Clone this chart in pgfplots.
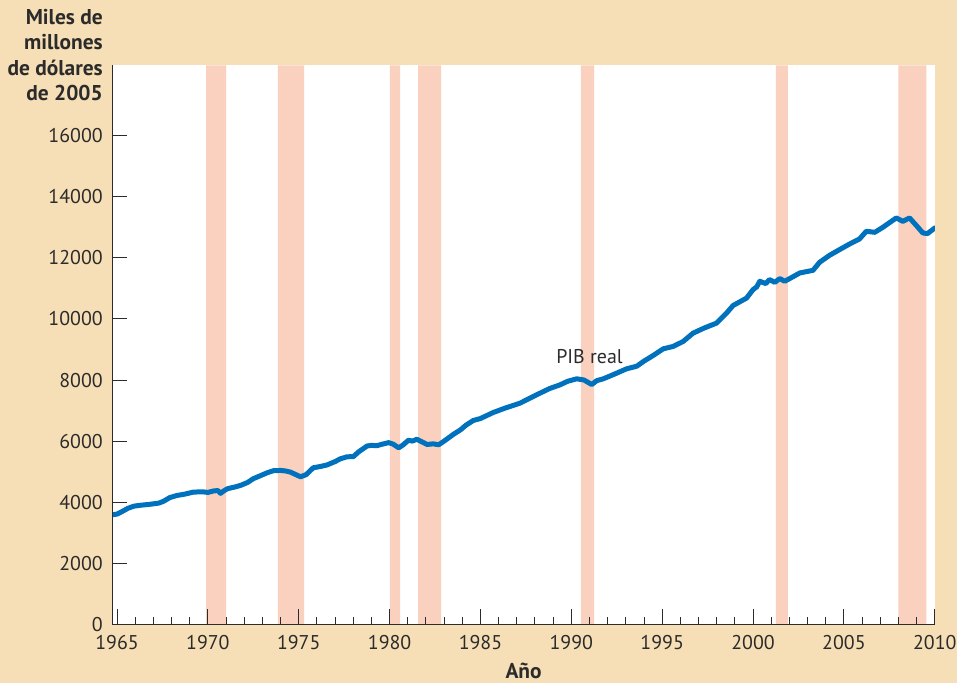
\documentclass[border=0pt]{standalone}
\usepackage{pgfplots}
\pgfplotsset{compat=1.18}
\usepackage{fontspec}
\setmainfont{PT Sans}
\definecolor{bg}{HTML}{F6DFB6}
\definecolor{rec}{HTML}{FAD1BF}
\definecolor{gdp}{HTML}{0071BC}
\definecolor{txt}{HTML}{2B2B2B}
\begin{document}
\begin{tikzpicture}[x=1bp,y=1bp]
\fill[bg] (0,0) rectangle (957,683);
\begin{axis}[
 at={(112.5bp,58.5bp)}, anchor=south west,
 width=822.5bp, height=559bp, scale only axis,
 xmin=1964.75, xmax=2010, ymin=0, ymax=18300,
 axis x line=bottom, axis y line=left,
 axis line style={-, line width=1.3bp, draw=txt},
 axis background/.style={fill=white},
 axis on top,
 xtick={1965,1970,...,2010}, minor x tick num=4,
 ytick={0,2000,...,16000},
 tick align=inside,
 major tick length=15bp, minor tick length=7bp,
 every tick/.style={line width=1bp, draw=txt},
 scaled y ticks=false, scaled x ticks=false,
 /pgf/number format/.cd, 1000 sep={}, assume math mode=true, /pgfplots/.cd,
 tick label style={font=\fontsize{20}{24}\selectfont, text=txt, inner sep=0.5bp},
 xticklabel style={anchor=base, yshift=-25bp},
 yticklabel style={xshift=-9bp},
]
\addplot[fill=rec, draw=none] coordinates {(1969.9,0)(1969.9,18300)(1971.0,18300)(1971.0,0)} \closedcycle;
\addplot[fill=rec, draw=none] coordinates {(1973.85,0)(1973.85,18300)(1975.3,18300)(1975.3,0)} \closedcycle;
\addplot[fill=rec, draw=none] coordinates {(1980.02,0)(1980.02,18300)(1980.58,18300)(1980.58,0)} \closedcycle;
\addplot[fill=rec, draw=none] coordinates {(1981.57,0)(1981.57,18300)(1982.84,18300)(1982.84,0)} \closedcycle;
\addplot[fill=rec, draw=none] coordinates {(1990.53,0)(1990.53,18300)(1991.25,18300)(1991.25,0)} \closedcycle;
\addplot[fill=rec, draw=none] coordinates {(2001.25,0)(2001.25,18300)(2001.91,18300)(2001.91,0)} \closedcycle;
\addplot[fill=rec, draw=none] coordinates {(2008.0,0)(2008.0,18300)(2009.54,18300)(2009.54,0)} \closedcycle;
\addplot[gdp, line width=5bp, line join=round, line cap=round] coordinates {
(1964.78,3590)(1965.0,3610)(1965.3,3700)(1965.6,3800)(1965.93,3870)(1966.3,3900)
(1966.8,3930)(1967.3,3970)(1967.58,4035)(1967.9,4150)(1968.3,4220)(1968.7,4260)
(1969.2,4330)(1969.7,4340)(1970.0,4320)(1970.33,4370)(1970.55,4380)(1970.7,4290)
(1970.85,4360)(1971.07,4440)(1971.5,4500)(1971.8,4550)(1972.2,4650)(1972.5,4770)
(1972.9,4870)(1973.26,4963)(1973.6,5030)(1974.0,5040)(1974.3,5020)(1974.54,4985)
(1974.85,4900)(1975.1,4832)(1975.4,4900)(1975.8,5127)(1976.2,5170)(1976.56,5220)
(1977.0,5330)(1977.29,5420)(1977.66,5487)(1978.0,5490)(1978.3,5650)(1978.76,5840)
(1979.0,5860)(1979.3,5850)(1979.6,5900)(1979.95,5950)(1980.2,5900)(1980.5,5780)
(1980.75,5880)(1981.04,6030)(1981.25,6000)(1981.5,6060)(1981.8,5970)(1982.06,5890)
(1982.4,5910)(1982.7,5880)(1983.0,6000)(1983.5,6217)(1983.9,6369)(1984.2,6520)
(1984.6,6674)(1985.0,6740)(1985.7,6936)(1986.4,7090)(1987.18,7243)(1987.7,7400)
(1988.28,7571)(1988.8,7720)(1989.38,7843)(1989.8,7960)(1990.3,8040)(1990.7,8000)
(1991.12,7853)(1991.4,7980)(1991.76,8040)(1992.4,8200)(1993.04,8367)(1993.6,8452)
(1994.0,8620)(1994.5,8802)(1995.05,9021)(1995.6,9100)(1996.15,9261)(1996.7,9535)
(1997.3,9700)(1997.99,9863)(1998.54,10191)(1998.9,10440)(1999.64,10682)(2000.0,10960)
(2000.2,11050)(2000.37,11233)(2000.7,11158)(2000.9,11289)(2001.2,11200)(2001.47,11322)
(2001.74,11233)(2002.1,11350)(2002.57,11506)(2003.3,11593)(2003.66,11855)(2004.2,12080)
(2004.76,12270)(2005.3,12450)(2005.86,12620)(2006.23,12870)(2006.7,12837)(2007.14,13000)
(2007.5,13150)(2007.88,13308)(2008.24,13197)(2008.61,13308)(2009.0,13050)(2009.34,12817)
(2009.6,12794)(2010.0,12980)
};
\node[font=\fontsize{20}{24}\selectfont, text=txt] at (axis cs:1991,8780) {PIB real};
\end{axis}
\begin{scope}[every node/.style={anchor=base east, font=\bfseries\fontsize{21.5}{24}\selectfont, text=txt, inner sep=0pt}]
\node at (103,658) {Miles de};
\node at (103,633.5) {millones};
\node at (103,607) {de dólares};
\node at (103,582) {de 2005};
\end{scope}
\node[anchor=base, inner sep=0pt, font=\bfseries\fontsize{21.5}{24}\selectfont, text=txt] at (523.7,4.7) {Año};
\end{tikzpicture}
\end{document}
